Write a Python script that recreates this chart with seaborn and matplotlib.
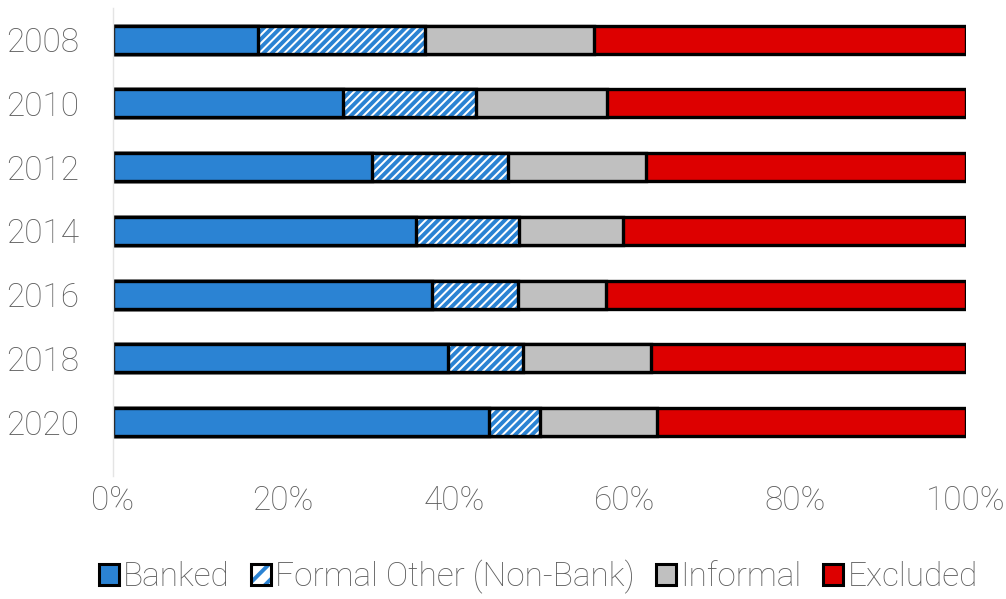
import matplotlib
matplotlib.use("Agg")
import matplotlib.pyplot as plt
from matplotlib.patches import Patch
from matplotlib.legend_handler import HandlerTuple
import seaborn as sns
import pandas as pd
import numpy as np

# Share of adults by financial access strand (%)
years = ["2008", "2010", "2012", "2014", "2016", "2018", "2020"]
banked = [17.0, 27.0, 30.4, 35.5, 37.4, 39.3, 44.1]
formal_other = [19.6, 15.6, 15.9, 12.1, 10.1, 8.8, 6.0]
informal = [19.8, 15.3, 16.2, 12.2, 10.3, 15.0, 13.7]
excluded = [43.6, 42.1, 37.5, 40.2, 42.2, 36.9, 36.2]

labels = ["Banked", "Formal Other (Non-Bank)", "Informal", "Excluded"]
BLUE = "#2B83D3"
RED = "#DD0000"
GREY = "#C0C0C0"
TEXT = "#5e5e5e"

df = pd.DataFrame({
    "year": years,
    "banked": banked,
    "formal_other": formal_other,
    "informal": informal,
    "excluded": excluded,
})
df["c_banked"] = df["banked"]
df["c_formal"] = df["c_banked"] + df["formal_other"]
df["c_informal"] = df["c_formal"] + df["informal"]
df["c_total"] = df["c_informal"] + df["excluded"]

sns.set_theme(style="white")
plt.rcParams["font.family"] = ["Roboto", "DejaVu Sans"]
plt.rcParams["font.weight"] = "light"
plt.rcParams["hatch.linewidth"] = 2.8

fig = plt.figure(figsize=(10.06, 5.99), dpi=100)
ax = fig.add_axes([0.112, 0.205, 0.848, 0.782])

bar_w = 0.44
edge_lw = 2.4
common = dict(data=df, y="year", orient="h", width=bar_w, ax=ax)

# stacked layers drawn from the full total down to the first segment
sns.barplot(x="c_total", color=RED, edgecolor="black", linewidth=edge_lw,
            saturation=1, **common)
sns.barplot(x="c_informal", color=GREY, edgecolor="black", linewidth=edge_lw,
            saturation=1, **common)
n_before = len(ax.patches)
sns.barplot(x="c_formal", color="white", edgecolor=BLUE, linewidth=0,
            saturation=1, **common)
for p in ax.patches[n_before:]:
    p.set_hatch("////")
    p.set_facecolor("white")
    p.set_edgecolor(BLUE)
    p.set_linewidth(0)
n_before = len(ax.patches)
sns.barplot(x="c_formal", color="white", edgecolor="black", linewidth=edge_lw,
            saturation=1, fill=False, **common)
for p in ax.patches[n_before:]:
    p.set_facecolor("none")
    p.set_edgecolor("black")
    p.set_linewidth(edge_lw)
sns.barplot(x="c_banked", color=BLUE, edgecolor="black", linewidth=edge_lw,
            saturation=1, **common)

ax.set_xlim(0, 100)
ax.set_ylim(6.85, -0.5)
ax.set_xticks(np.arange(0, 101, 20))
ax.set_xticklabels([f"{v}%" for v in range(0, 101, 20)])
ax.set_xlabel("")
ax.set_ylabel("")
ax.tick_params(axis="both", labelsize=24, colors=TEXT, length=0)
ax.tick_params(axis="y", pad=24)
ax.tick_params(axis="x", pad=6)

for s in ["top", "right", "bottom"]:
    ax.spines[s].set_visible(False)
ax.spines["left"].set_color("#e4e4e4")
ax.spines["left"].set_linewidth(1.0)

hatch_fill = Patch(facecolor="white", edgecolor=BLUE, linewidth=0, hatch="//")
hatch_edge = Patch(facecolor="none", edgecolor="black", linewidth=2.2)
handles = [
    Patch(facecolor=BLUE, edgecolor="black", linewidth=2.2),
    (hatch_fill, hatch_edge),
    Patch(facecolor=GREY, edgecolor="black", linewidth=2.2),
    Patch(facecolor=RED, edgecolor="black", linewidth=2.2),
]
leg = fig.legend(handles, labels, loc="lower center", ncol=4,
                 bbox_to_anchor=(0.535, -0.042), frameon=False,
                 fontsize=24, handlelength=0.6, handleheight=0.6,
                 handletextpad=0.12, columnspacing=0.65,
                 handler_map={tuple: HandlerTuple(ndivide=1, pad=0)})
for t in leg.get_texts():
    t.set_color(TEXT)

fig.savefig("out.png", dpi=100)
